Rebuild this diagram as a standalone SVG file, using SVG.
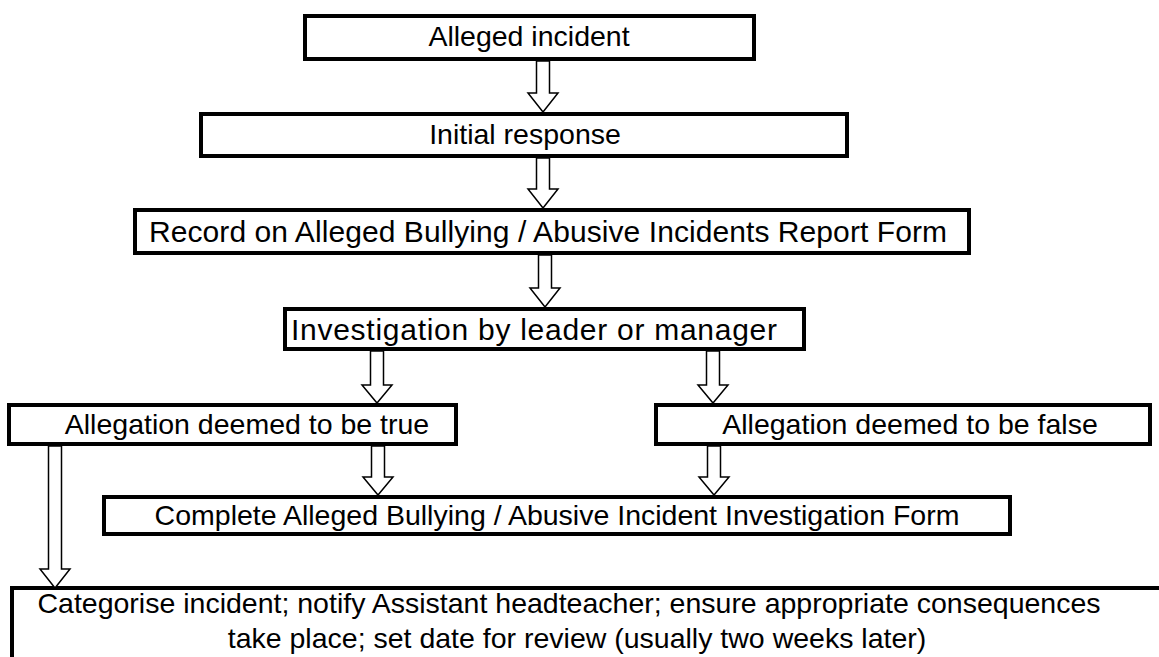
<svg xmlns="http://www.w3.org/2000/svg" width="1159" height="657" viewBox="0 0 1159 657">
<style>
.box{fill:#fff;stroke:#000;stroke-width:4}
.t{font-family:"Liberation Sans",Arial,sans-serif;font-size:28.5px;fill:#000;text-anchor:middle}
.arr{fill:#fff;stroke:#000;stroke-width:1.5;stroke-linejoin:miter}
</style>
<rect width="1159" height="657" fill="#fff"/>
<g id="n1"><rect class="box" x="305" y="16" width="449" height="43"/><text class="t" x="529" y="46">Alleged incident</text></g>
<g id="n2"><rect class="box" x="201" y="114" width="646" height="42"/><text class="t" x="525" y="144">Initial response</text></g>
<g id="n3"><rect class="box" x="135" y="210" width="834" height="43"/><text class="t" x="548" y="242" style="font-size:30px" textLength="798" lengthAdjust="spacing">Record on Alleged Bullying / Abusive Incidents Report Form</text></g>
<g id="n4"><rect class="box" x="285" y="309" width="519" height="40"/><text class="t" x="534" y="340" style="font-size:30px" textLength="486" lengthAdjust="spacing">Investigation by leader or manager</text></g>
<g id="n5"><rect class="box" x="9" y="405" width="447" height="39"/><text class="t" x="247" y="434">Allegation deemed to be true</text></g>
<g id="n6"><rect class="box" x="656" y="405" width="494" height="39"/><text class="t" x="910" y="434">Allegation deemed to be false</text></g>
<g id="n7"><rect class="box" x="104" y="497" width="906" height="37"/><text class="t" x="557" y="525">Complete Alleged Bullying / Abusive Incident Investigation Form</text></g>
<g id="n8"><rect class="box" x="12" y="588" width="1200" height="100"/><text class="t" x="569" y="613">Categorise incident; notify Assistant headteacher; ensure appropriate consequences</text><text class="t" x="577" y="648">take place; set date for review (usually two weeks later)</text></g>
<g id="connectors">
<path class="arr" d="M536.5 61H549.5V93H558L543 112L528 93H536.5Z"/>
<path class="arr" d="M536.5 158H549.5V189H558L543 208L528 189H536.5Z"/>
<path class="arr" d="M538.5 255H551.5V288H560L545 307L530 288H538.5Z"/>
<path class="arr" d="M370.5 351H383.5V385H392L377 403L362 385H370.5Z"/>
<path class="arr" d="M706.5 351H719.5V385H728L713 403L698 385H706.5Z"/>
<path class="arr" d="M371.5 446H384.5V477H393L378 495L363 477H371.5Z"/>
<path class="arr" d="M707.5 446H720.5V477H729L714 495L699 477H707.5Z"/>
<path class="arr" d="M48.5 446H61.5V569H70L55 588L40 569H48.5Z"/>
</g>
</svg>
